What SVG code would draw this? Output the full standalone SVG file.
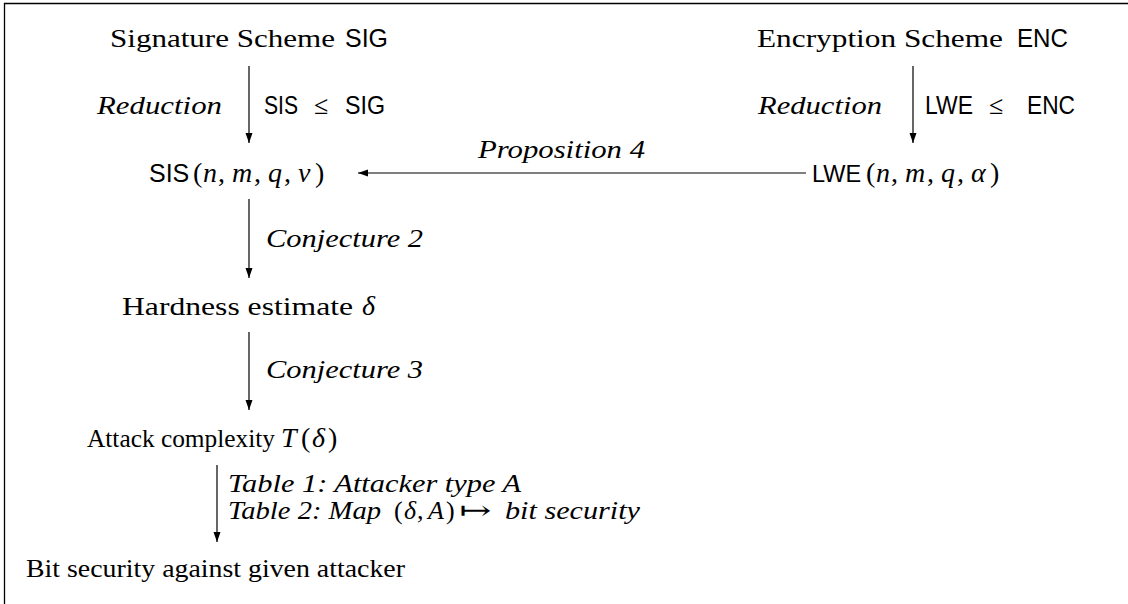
<svg xmlns="http://www.w3.org/2000/svg" width="1128" height="604" viewBox="0 0 1128 604">
<defs>
<style>
.rm{font-family:"Liberation Serif","DejaVu Serif",serif;font-size:26px;fill:#000}
.it{font-family:"Liberation Serif","DejaVu Serif",serif;font-size:26px;font-style:italic;fill:#000}
.sf{font-family:"Liberation Sans","DejaVu Sans",sans-serif;font-size:25px;font-style:normal}
.m{font-size:28px}
.i{font-style:italic}
.n{font-style:normal}
.ln{stroke:#000;stroke-width:1.2;fill:none}
</style>
<marker id="ah" viewBox="0 0 10 10" refX="10" refY="5" markerWidth="10" markerHeight="10" markerUnits="userSpaceOnUse" orient="auto">
<path d="M0,1.5 L10,5 L0,8.5 Z" fill="#000"/>
</marker>
</defs>
<rect width="1128" height="604" fill="#fff"/>
<path d="M4.5,604 V3.5 H1128" stroke="#000" stroke-width="1.3" fill="none"/>

<g id="connectors">
<line class="ln" x1="249" y1="66" x2="249" y2="143" marker-end="url(#ah)"/>
<line class="ln" x1="913" y1="66" x2="913" y2="143" marker-end="url(#ah)"/>
<line class="ln" x1="806" y1="173" x2="358" y2="173" marker-end="url(#ah)"/>
<line class="ln" x1="249" y1="199" x2="249" y2="278" marker-end="url(#ah)"/>
<line class="ln" x1="249" y1="332" x2="249" y2="410" marker-end="url(#ah)"/>
<line class="ln" x1="217" y1="465" x2="217" y2="542" marker-end="url(#ah)"/>
<text class="it" y="114"><tspan x="97" textLength="125" lengthAdjust="spacingAndGlyphs">Reduction</tspan><tspan class="sf" x="264" textLength="34" lengthAdjust="spacingAndGlyphs">SIS</tspan><tspan class="n" x="314">≤</tspan><tspan class="sf" x="345" textLength="40" lengthAdjust="spacingAndGlyphs">SIG</tspan></text>
<text class="it" y="114"><tspan x="758" textLength="124" lengthAdjust="spacingAndGlyphs">Reduction</tspan><tspan class="sf" x="925" textLength="48" lengthAdjust="spacingAndGlyphs">LWE</tspan><tspan class="n" x="989">≤</tspan><tspan class="sf" x="1027" textLength="48" lengthAdjust="spacingAndGlyphs">ENC</tspan></text>
<text class="it" x="478" y="158" textLength="167" lengthAdjust="spacingAndGlyphs">Proposition 4</text>
<text class="it" x="266" y="247" textLength="157" lengthAdjust="spacingAndGlyphs">Conjecture 2</text>
<text class="it" x="266" y="378" textLength="157" lengthAdjust="spacingAndGlyphs">Conjecture 3</text>
<text class="it" x="228" y="492" textLength="293" lengthAdjust="spacingAndGlyphs">Table 1: Attacker type A</text>
<text class="it" y="519"><tspan x="228" textLength="153" lengthAdjust="spacingAndGlyphs">Table 2: Map</tspan><tspan class="n" x="394">(</tspan><tspan x="404">δ</tspan><tspan class="n" x="417">,</tspan><tspan x="428">A</tspan><tspan class="n" x="446">)</tspan><tspan class="n" x="459" textLength="32" lengthAdjust="spacingAndGlyphs">↦</tspan><tspan x="505" textLength="135" lengthAdjust="spacingAndGlyphs">bit security</tspan></text>
</g>

<g id="node-sig">
<text class="rm" y="47"><tspan x="110" textLength="225" lengthAdjust="spacingAndGlyphs">Signature Scheme</tspan><tspan class="sf" x="345" textLength="43" lengthAdjust="spacingAndGlyphs">SIG</tspan></text>
</g>
<g id="node-enc">
<text class="rm" y="47"><tspan x="757" textLength="246" lengthAdjust="spacingAndGlyphs">Encryption Scheme</tspan><tspan class="sf" x="1017" textLength="51" lengthAdjust="spacingAndGlyphs">ENC</tspan></text>
</g>
<g id="node-sis">
<text class="rm" y="182"><tspan class="sf" x="149">SIS</tspan><tspan class="m" x="193">(</tspan><tspan class="m i" x="203">n</tspan><tspan class="m" x="218">,</tspan><tspan class="m i" x="232">m</tspan><tspan class="m" x="254">,</tspan><tspan class="m i" x="268">q</tspan><tspan class="m" x="284">,</tspan><tspan class="m i" x="298">ν</tspan><tspan class="m" x="315">)</tspan></text>
</g>
<g id="node-lwe">
<text class="rm" y="182"><tspan class="sf" x="812" style="font-size:23.5px">LWE</tspan><tspan class="m" x="866">(</tspan><tspan class="m i" x="876">n</tspan><tspan class="m" x="891">,</tspan><tspan class="m i" x="905">m</tspan><tspan class="m" x="927">,</tspan><tspan class="m i" x="941">q</tspan><tspan class="m" x="957">,</tspan><tspan class="m i" x="971">α</tspan><tspan class="m" x="990">)</tspan></text>
</g>
<g id="node-hardness">
<text class="rm" y="315"><tspan x="122" textLength="231" lengthAdjust="spacingAndGlyphs">Hardness estimate</tspan><tspan class="m i" x="362">δ</tspan></text>
</g>
<g id="node-attack">
<text class="rm" y="447"><tspan x="87" textLength="188" lengthAdjust="spacingAndGlyphs">Attack complexity</tspan><tspan class="m i" x="281">T</tspan><tspan class="m" x="301">(</tspan><tspan class="m i" x="312">δ</tspan><tspan class="m" x="328">)</tspan></text>
</g>
<g id="node-bit">
<text class="rm" x="26" y="577" textLength="379" lengthAdjust="spacingAndGlyphs">Bit security against given attacker</text>
</g>
</svg>
